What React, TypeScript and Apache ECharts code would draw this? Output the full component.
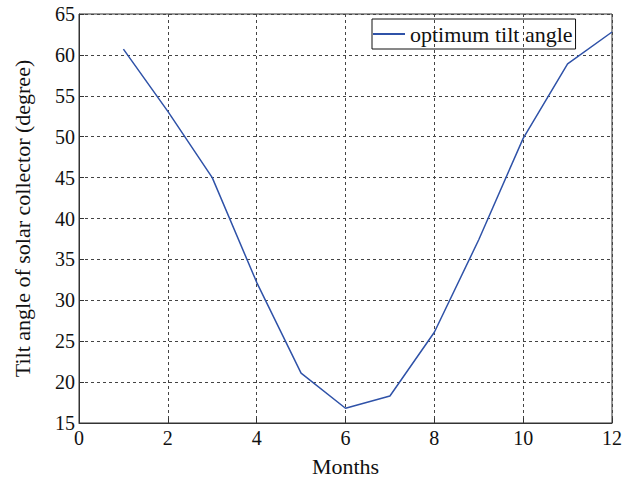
import React, { useEffect, useRef } from "react";
import * as echarts from "echarts";

const months = [1, 2, 3, 4, 5, 6, 7, 8, 9, 10, 11, 12];
const tiltAngle = [60.7, 53.1, 45.0, 32.2, 21.1, 16.8, 18.3, 26.1, 37.4, 49.8, 58.9, 62.8];
const seriesName = "optimum tilt angle";
const xTitle = "Months";
const yTitle = "Tilt angle of solar collector (degree)";

const FONT = "'Liberation Serif', 'Times New Roman', serif";

export default function App() {
  const ref = useRef<HTMLDivElement>(null);
  useEffect(() => {
    if (!ref.current) return;
    const chart = echarts.init(ref.current, undefined, { renderer: "svg" });
    const axisLine = { show: true, lineStyle: { color: "#333", width: 1 } };
    const split = { show: true, lineStyle: { color: "#444", type: [3, 3] as any, width: 1 } };
    chart.setOption({
      animation: false,
      backgroundColor: "#fff",
      grid: {
        left: 79,
        right: 16,
        top: 14,
        bottom: 56,
        containLabel: false,
        outerBoundsMode: "none",
        show: true,
        borderColor: "#333",
        borderWidth: 1,
      },
      legend: {
        show: true,
        data: [{ name: seriesName }],
        left: 372,
        top: 19,
        padding: [4, 3, 4, 1],
        borderColor: "#111",
        borderWidth: 1,
        itemWidth: 32,
        itemHeight: 2,
        icon: "rect",
        itemStyle: { color: "#2f52a8" },
        textStyle: { fontFamily: FONT, fontSize: 22, color: "#111" },
      },
      xAxis: {
        type: "value",
        min: 0,
        max: 12,
        interval: 2,
        name: xTitle,
        nameLocation: "middle",
        nameGap: 32,
        nameTextStyle: { fontFamily: FONT, fontSize: 22, color: "#111" },
        axisLine,
        axisTick: { show: true, inside: true, length: 5, lineStyle: { color: "#333" } },
        axisLabel: { fontFamily: FONT, fontSize: 20, color: "#111", margin: 5 },
        splitLine: split,
      },
      yAxis: {
        type: "value",
        min: 15,
        max: 65,
        interval: 5,
        name: yTitle,
        nameLocation: "middle",
        nameGap: 46,
        nameTextStyle: { fontFamily: FONT, fontSize: 22, color: "#111" },
        axisLine,
        axisTick: { show: true, inside: true, length: 5, lineStyle: { color: "#333" } },
        axisLabel: { fontFamily: FONT, fontSize: 20, color: "#111", margin: 4 },
        splitLine: split,
      },
      series: [
        {
          name: seriesName,
          type: "line",
          data: months.map((m, i) => [m, tiltAngle[i]]),
          symbol: "none",
          lineStyle: { color: "#2f52a8", width: 1.5 },
          itemStyle: { color: "#2f52a8" },
        },
      ],
    });
    return () => chart.dispose();
  }, []);
  return <div ref={ref} style={{ width: 628, height: 479, position: "absolute", left: 0, top: 0 }} />;
}
